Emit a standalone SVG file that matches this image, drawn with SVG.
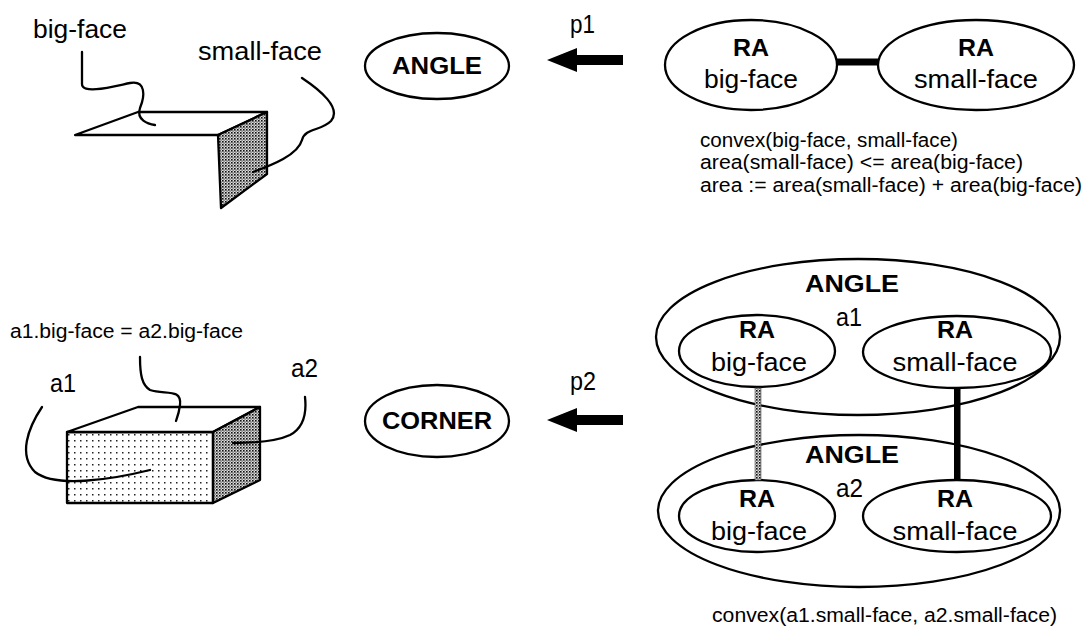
<svg xmlns="http://www.w3.org/2000/svg" width="1086" height="637" viewBox="0 0 1086 637">
<style>
text{font-family:"Liberation Sans",Arial,Helvetica,sans-serif;fill:#000}
.lbl{font-size:25px}
.b{font-weight:bold;font-size:24px}
.c{font-size:20px}
.ol{fill:#fff;stroke:#000;stroke-width:2.3}
.ld{fill:none;stroke:#000;stroke-width:2.3;stroke-linecap:round}
.edge{stroke:#000;stroke-width:2.3;stroke-linejoin:round}
</style>
<defs>
<pattern id="sparse" width="6" height="6" patternUnits="userSpaceOnUse">
<rect width="6" height="6" fill="#fff"/><rect x="2" y="2" width="1.5" height="1.5" fill="#222"/>
</pattern>
<pattern id="dense" width="3" height="3" patternUnits="userSpaceOnUse">
<rect width="3" height="3" fill="#ddd"/><rect x="0" y="0" width="1.6" height="1.6" fill="#111"/><rect x="1.5" y="1.5" width="1.2" height="1.2" fill="#444"/>
</pattern>
</defs>
<rect width="1086" height="637" fill="#fff"/>

<g id="wedge">
<polygon class="edge" fill="#fff" points="75,135 138,112 267,112 218,135"/>
<polygon class="edge" fill="url(#dense)" stroke-width="3" points="218,135 267,112 267,174 221,208"/>
<path class="ld" d="M82,52 L82,84 C82,95 115,86 130,83 C146,80 145,96 140,108 C136,120 148,124 155,125"/>
<path class="ld" d="M302,78 C320,90 342,108 331,121 C321,131 305,128 302,140 C298,155 272,165 253,172"/>
<text class="lbl" x="33" y="38" textLength="94" lengthAdjust="spacingAndGlyphs">big-face</text>
<text class="lbl" x="198" y="60" textLength="124" lengthAdjust="spacingAndGlyphs">small-face</text>
</g>

<g id="angle">
<ellipse class="ol" cx="437" cy="66" rx="72" ry="33"/>
<text class="b" x="437" y="74" text-anchor="middle" textLength="90" lengthAdjust="spacingAndGlyphs">ANGLE</text>
</g>

<g id="ra-big-1">
<ellipse class="ol" cx="751" cy="65" rx="86" ry="45"/>
<text class="b" x="751" y="56" text-anchor="middle" textLength="36" lengthAdjust="spacingAndGlyphs">RA</text>
<text class="lbl" x="751" y="88" text-anchor="middle" textLength="94" lengthAdjust="spacingAndGlyphs">big-face</text>
</g>
<g id="ra-small-1">
<ellipse class="ol" cx="976" cy="65" rx="98" ry="45"/>
<text class="b" x="976" y="56" text-anchor="middle" textLength="36" lengthAdjust="spacingAndGlyphs">RA</text>
<text class="lbl" x="976" y="88" text-anchor="middle" textLength="124" lengthAdjust="spacingAndGlyphs">small-face</text>
</g>

<g id="constraints1">
<text class="c" x="700" y="147" textLength="258" lengthAdjust="spacingAndGlyphs">convex(big-face, small-face)</text>
<text class="c" x="700" y="169" textLength="323" lengthAdjust="spacingAndGlyphs">area(small-face) &lt;= area(big-face)</text>
<text class="c" x="700" y="192" textLength="382" lengthAdjust="spacingAndGlyphs">area := area(small-face) + area(big-face)</text>
</g>

<g id="box">
<rect x="67" y="432" width="146" height="71" fill="url(#sparse)" class="edge" stroke-width="2.6"/>
<polygon class="edge" fill="#fff" points="67,432 138,407 260,407 213,432"/>
<polygon class="edge" fill="url(#dense)" stroke-width="3" points="213,432 260,407 260,480 213,503"/>
<path class="ld" d="M140,357 C140,375 142,385 150,390 C165,395 182,388 180,405 C179,413 177,418 176,421"/>
<path class="ld" d="M42,407 C28,428 18,455 35,472 C55,488 110,480 150,470"/>
<path class="ld" d="M305,397 C307,415 303,428 290,435 C275,442 250,443 233,443"/>
<text class="c" x="10" y="338" textLength="233" lengthAdjust="spacingAndGlyphs">a1.big-face = a2.big-face</text>
<text class="lbl" x="50" y="392" textLength="26" lengthAdjust="spacingAndGlyphs">a1</text>
<text class="lbl" x="291" y="377" textLength="27" lengthAdjust="spacingAndGlyphs">a2</text>
</g>

<g id="corner">
<ellipse class="ol" cx="437" cy="421" rx="72" ry="36"/>
<text class="b" x="437" y="429" text-anchor="middle" textLength="110" lengthAdjust="spacingAndGlyphs">CORNER</text>
</g>

<g id="angle-a1">
<ellipse class="ol" cx="858" cy="337" rx="202" ry="78"/>
<text class="b" x="852" y="292" text-anchor="middle" textLength="94" lengthAdjust="spacingAndGlyphs">ANGLE</text>
<text class="lbl" x="836" y="326" textLength="26" lengthAdjust="spacingAndGlyphs">a1</text>
</g>
<g id="a1-ra-big">
<ellipse class="ol" cx="757" cy="351" rx="78" ry="36"/>
<text class="b" x="757" y="338" text-anchor="middle" textLength="36" lengthAdjust="spacingAndGlyphs">RA</text>
<text class="lbl" x="759" y="371" text-anchor="middle" textLength="96" lengthAdjust="spacingAndGlyphs">big-face</text>
</g>
<g id="a1-ra-small">
<ellipse class="ol" cx="957" cy="352" rx="94" ry="36"/>
<text class="b" x="955" y="338" text-anchor="middle" textLength="36" lengthAdjust="spacingAndGlyphs">RA</text>
<text class="lbl" x="955" y="371" text-anchor="middle" textLength="125" lengthAdjust="spacingAndGlyphs">small-face</text>
</g>

<g id="angle-a2">
<ellipse class="ol" cx="859" cy="511" rx="201" ry="76"/>
<text class="b" x="852" y="463" text-anchor="middle" textLength="94" lengthAdjust="spacingAndGlyphs">ANGLE</text>
<text class="lbl" x="836" y="497" textLength="27" lengthAdjust="spacingAndGlyphs">a2</text>
</g>
<g id="a2-ra-big">
<ellipse class="ol" cx="757" cy="516" rx="78" ry="36"/>
<text class="b" x="757" y="507" text-anchor="middle" textLength="36" lengthAdjust="spacingAndGlyphs">RA</text>
<text class="lbl" x="759" y="540" text-anchor="middle" textLength="96" lengthAdjust="spacingAndGlyphs">big-face</text>
</g>
<g id="a2-ra-small">
<ellipse class="ol" cx="957" cy="516" rx="94" ry="36"/>
<text class="b" x="955" y="507" text-anchor="middle" textLength="36" lengthAdjust="spacingAndGlyphs">RA</text>
<text class="lbl" x="955" y="540" text-anchor="middle" textLength="125" lengthAdjust="spacingAndGlyphs">small-face</text>
</g>

<g id="constraints2">
<text class="c" x="712" y="622" textLength="345" lengthAdjust="spacingAndGlyphs">convex(a1.small-face, a2.small-face)</text>
</g>

<g id="connectors">
<polygon fill="#000" points="547,60 577,48 577,55 623,55 623,65 577,65 577,72"/>
<text class="lbl" x="570" y="33" textLength="25" lengthAdjust="spacingAndGlyphs">p1</text>
<polygon fill="#000" points="547,420 577,408 577,415 623,415 623,425 577,425 577,432"/>
<text class="lbl" x="570" y="390" textLength="26" lengthAdjust="spacingAndGlyphs">p2</text>
<rect x="836" y="58.5" width="43" height="7" fill="#000"/>
<rect x="755" y="388" width="6" height="92" fill="url(#dense)" stroke="#555" stroke-width="0.6"/>
<rect x="954" y="388" width="6.5" height="92" fill="#000"/>
</g>
</svg>
